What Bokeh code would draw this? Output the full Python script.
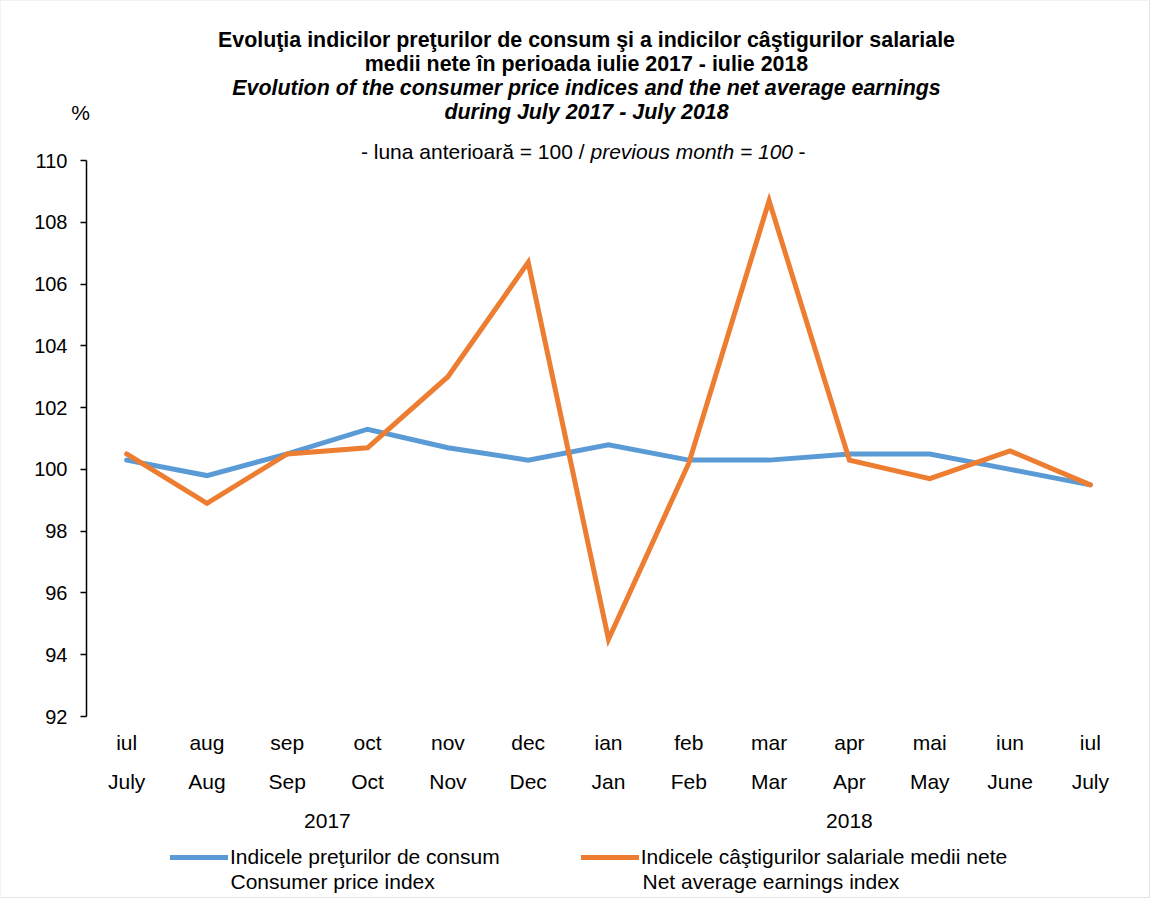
from bokeh.plotting import figure
from bokeh.models import (Label, Legend, LegendItem, FixedTicker, Range1d)
from bokeh.embed import file_html
from bokeh.resources import INLINE

# ---------------- data ----------------
months_ro = ["iul", "aug", "sep", "oct", "nov", "dec", "ian", "feb", "mar", "apr", "mai", "iun", "iul"]
months_en = ["July", "Aug", "Sep", "Oct", "Nov", "Dec", "Jan", "Feb", "Mar", "Apr", "May", "June", "July"]
years = ["2017", "2018"]
year_centers = [2.5, 9.0]
cpi = [100.3, 99.8, 100.5, 101.3, 100.7, 100.3, 100.8, 100.3, 100.3, 100.5, 100.5, 100.0, 99.5]
earnings = [100.5, 98.9, 100.5, 100.7, 103.0, 106.7, 94.5, 100.2, 108.7, 100.3, 99.7, 100.6, 99.5]
y_ticks = [92, 94, 96, 98, 100, 102, 104, 106, 108, 110]

title_lines = [
    ("Evoluţia indicilor preţurilor de consum şi a indicilor câştigurilor salariale", "bold"),
    ("medii nete în perioada iulie 2017 - iulie 2018", "bold"),
    ("Evolution of the consumer price indices and the net average earnings", "bold italic"),
    ("during July 2017 - July 2018", "bold italic"),
]
legend_first = ["Indicele preţurilor de consum", "Indicele câştigurilor salariale medii nete"]
legend_second = ["Consumer price index", "Net average earnings index"]

# ---------------- layout ----------------
FONT = "Liberation Sans"
BLUE = "#5B9BD5"
ORANGE = "#ED7D31"
W, H = 1149, 897
SHIFT = -6                                      # vertical shift from reference to figure pixels
AX_L, AX_R, AX_T, AX_B = 86, 1130, 166 + SHIFT, 722 + SHIFT
XMIN, XMAX = -0.5, len(months_ro) - 0.5
YMIN, YMAX = 92, 110
FS = "21px"


def dx(px):
    return XMIN + (px - AX_L) / (AX_R - AX_L) * (XMAX - XMIN)


def fy(py):  # figure pixel -> data
    return YMAX - (py - AX_T) / (AX_B - AX_T) * (YMAX - YMIN)


def dy(py):  # reference pixel -> data
    return fy(py + SHIFT)


p = figure(width=W, height=H, output_backend="svg", toolbar_location=None,
           x_range=Range1d(dx(0), dx(W)), y_range=Range1d(fy(H), fy(0)),
           min_border_left=0, min_border_right=0,
           min_border_top=0, min_border_bottom=0)
p.styles = {"outline": "2px solid #e4e4e4", "outline-offset": "-1px"}
p.outline_line_color = None
p.grid.visible = False
p.xaxis.visible = False
p.background_fill_color = "white"
p.border_fill_color = "white"

ya = p.yaxis[0]
ya.fixed_location = XMIN
ya.bounds = (YMIN, YMAX)
ya.ticker = FixedTicker(ticks=y_ticks)
ya.minor_tick_line_color = None
ya.major_tick_in = 0
ya.major_tick_out = 6
ya.major_tick_line_width = 1.5
ya.axis_line_width = 1.5
ya.axis_line_color = "black"
ya.major_tick_line_color = "black"
ya.major_label_text_font = FONT
ya.major_label_text_font_size = "20px"
ya.major_label_text_color = "black"
ya.major_label_standoff = 13

xs = list(range(len(months_ro)))
r1 = p.line(xs, cpi, line_color=BLUE, line_width=5, line_join="miter", line_cap="round")
r2 = p.line(xs, earnings, line_color=ORANGE, line_width=5, line_join="miter", line_cap="round")


def add_label(x, y, text, size=FS, style="normal", align="center", baseline="middle"):
    p.add_layout(Label(x=x, y=y, text=text, text_font=FONT, text_font_size=size,
                       text_font_style=style, text_align=align, text_baseline=baseline,
                       text_color="black"))


# titles
for (txt, st), py in zip(title_lines, [45, 69, 93, 117]):
    add_label(dx(586), dy(py), txt, size="21.4px", style=st)
add_label(dx(80), dy(118), "%")
add_label(dx(584), dy(157), "- luna anterioară = 100 /", align="right")
add_label(dx(590), dy(157), "previous month = 100", style="italic", align="left")
add_label(dx(798), dy(157), "-", align="left")

# x category labels
for i, (ro, en) in enumerate(zip(months_ro, months_en)):
    add_label(i, dy(748), ro)
    add_label(i, dy(787), en)
for yc, yt in zip(year_centers, years):
    add_label(yc, dy(826), yt)

legend = Legend(items=[LegendItem(label=legend_first[0], renderers=[r1]),
                       LegendItem(label=legend_first[1], renderers=[r2])],
                orientation="horizontal", location=(170, H - (875 + SHIFT)),
                padding=0, margin=0, spacing=81, glyph_width=58, glyph_height=20,
                label_standoff=2, border_line_color=None, background_fill_alpha=0,
                label_text_font=FONT, label_text_font_size=FS, label_text_color="black")
p.add_layout(legend, "center")
add_label(dx(230), dy(887), legend_second[0], align="left")
add_label(dx(642), dy(887), legend_second[1], align="left")

open("out.html", "w").write(file_html(p, INLINE))
